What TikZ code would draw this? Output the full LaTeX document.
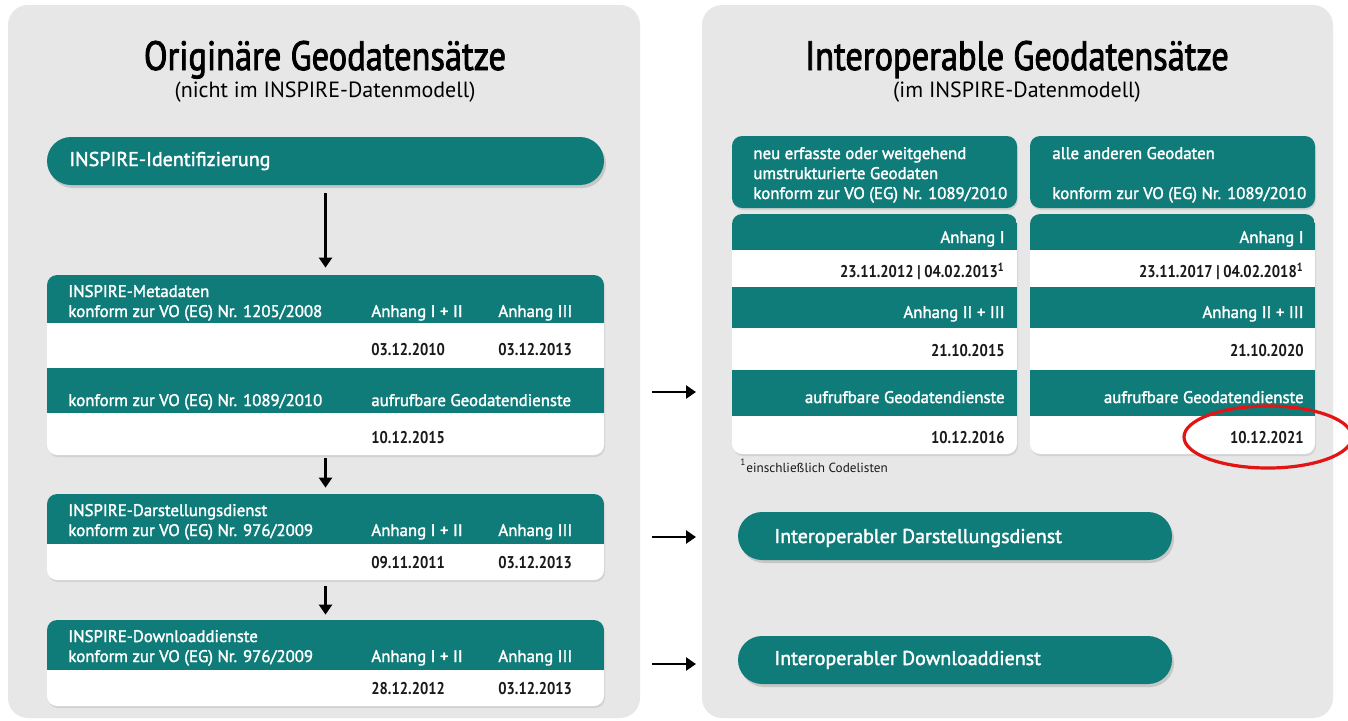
\documentclass[tikz,border=0pt]{standalone}
\usepackage{fontspec}
\setmainfont{PT Sans}
\newfontfamily\titlefont[FakeStretch=0.84, FakeBold=2]{PT Sans}
\newfontfamily\headfont[FakeBold=1.8]{PT Sans}
\newfontfamily\datefont[FakeStretch=0.86]{PT Sans}
\usepackage{xcolor}
\usepackage{tikz}
\usetikzlibrary{arrows.meta}
\usetikzlibrary{fit}
\usetikzlibrary{shadows}

\definecolor{inspteal}{RGB}{15,124,122}
\definecolor{panelgrey}{RGB}{231,231,231}
\definecolor{datetext}{RGB}{25,25,25}
\definecolor{markred}{RGB}{226,20,20}

\tikzset{
    panel/.style={fill=panelgrey, rounded corners=10pt},
    pill/.style={fill=inspteal, inner sep=0pt, rounded corners=12pt,
        drop shadow={opacity=0.3, shadow xshift=1pt, shadow yshift=-1.5pt}},
    tealbox/.style={fill=inspteal, inner sep=0pt, rounded corners=5pt,
        drop shadow={opacity=0.2, shadow xshift=0.5pt, shadow yshift=-1pt}},
    tabbox/.style={fill=white, inner sep=0pt, rounded corners=5pt,
        drop shadow={opacity=0.2, shadow xshift=0.5pt, shadow yshift=-1pt}},
    title/.style={anchor=base, inner sep=0pt, font=\titlefont\fontsize{20.5}{24}\selectfont},
    subtitle/.style={anchor=base, inner sep=0pt, font=\fontsize{11}{13}\selectfont},
    pilltext/.style={anchor=base west, inner sep=0pt, text=white, font=\headfont\fontsize{10}{12}\selectfont},
    head/.style={anchor=base west, inner sep=0pt, text=white, font=\headfont\fontsize{8.4}{10}\selectfont},
    headr/.style={head, anchor=base east},
    date/.style={anchor=base west, inner sep=0pt, text=datetext, font=\datefont\bfseries\fontsize{8.5}{10}\selectfont},
    dater/.style={date, anchor=base east},
    arr/.style={-{Triangle[length=5pt, width=6.5pt]}, line width=1.4pt},
}

\begin{document}
\begin{tikzpicture}[x=0.5pt, y=-0.5pt]

    \useasboundingbox (0,0) rectangle (1348,720);
    \fill [white] (0,0) rectangle (1348,720);

    \fill [panel] (8,5) rectangle (640,718);
    \fill [panel] (702,5) rectangle (1333,718);

    % left panel
    \node [title] (origTitle) at (325,70) {Originäre Geodatensätze};
    \node [subtitle] (origSub) at (325,97) {(nicht im INSPIRE-Datenmodell)};

    \node [pill, fit={(47,137) (604,185)}] (ident) {};
    \node [pilltext] (identText) at (69,166) {INSPIRE-Identifizierung};

    \node [tabbox, fit={(47,275) (604,455)}] (meta) {};
    \begin{scope}
        \clip [rounded corners=5pt] (47,275) rectangle (604,455);
        \foreach \ya/\yb in {275/323, 368/413}
            \fill [inspteal] (47,\ya) rectangle (604,\yb);
    \end{scope}
    \node [head] (metaName) at (68,297) {INSPIRE-Metadaten};
    \node [head] (metaReg) at (68,317) {konform zur VO (EG) Nr. 1205/2008};
    \node [head] (metaAnnA) at (371,317) {Anhang I + II};
    \node [head] (metaAnnB) at (498,317) {Anhang III};
    \node [date] (metaDateA) at (371,355) {03.12.2010};
    \node [date] (metaDateB) at (498,355) {03.12.2013};
    \node [head] (metaRegSvc) at (68,406) {konform zur VO (EG) Nr. 1089/2010};
    \node [head] (metaSvc) at (371,406) {aufrufbare Geodatendienste};
    \node [date] (metaDateC) at (371,443) {10.12.2015};

    \node [tabbox, fit={(47,494) (604,580)}] (view) {};
    \begin{scope}
        \clip [rounded corners=5pt] (47,494) rectangle (604,580);
        \fill [inspteal] (47,494) rectangle (604,544);
    \end{scope}
    \node [head] (viewName) at (68,516) {INSPIRE-Darstellungsdienst};
    \node [head] (viewReg) at (68,536) {konform zur VO (EG) Nr. 976/2009};
    \node [head] (viewAnnA) at (371,536) {Anhang I + II};
    \node [head] (viewAnnB) at (498,536) {Anhang III};
    \node [date] (viewDateA) at (371,568) {09.11.2011};
    \node [date] (viewDateB) at (498,568) {03.12.2013};

    \node [tabbox, fit={(47,620) (604,706)}] (down) {};
    \begin{scope}
        \clip [rounded corners=5pt] (47,620) rectangle (604,706);
        \fill [inspteal] (47,620) rectangle (604,670);
    \end{scope}
    \node [head] (downName) at (68,642) {INSPIRE-Downloaddienste};
    \node [head] (downReg) at (68,662) {konform zur VO (EG) Nr. 976/2009};
    \node [head] (downAnnA) at (371,662) {Anhang I + II};
    \node [head] (downAnnB) at (498,662) {Anhang III};
    \node [date] (downDateA) at (371,694) {28.12.2012};
    \node [date] (downDateB) at (498,694) {03.12.2013};

    \draw [arr, shorten <=4pt, shorten >=3.5pt] (ident) -- (meta);
    \draw [arr, shorten <=1.5pt, shorten >=3pt] (meta) -- (view);
    \draw [arr, shorten <=3pt, shorten >=2.5pt] (view) -- (down);

    % right panel
    \node [title] (interTitle) at (1017,70) {Interoperable Geodatensätze};
    \node [subtitle] (interSub) at (1017,97) {(im INSPIRE-Datenmodell)};

    \node [tealbox, fit={(732,136) (1017,208)}] (newHead) {};
    \node [head] (newLineA) at (753,159) {neu erfasste oder weitgehend};
    \node [head] (newLineB) at (753,179) {umstrukturierte Geodaten};
    \node [head] (newLineC) at (753,199) {konform zur VO (EG) Nr. 1089/2010};

    \node [tealbox, fit={(1030,136) (1315,208)}] (otherHead) {};
    \node [head] (otherLineA) at (1052,159) {alle anderen Geodaten};
    \node [head] (otherLineC) at (1052,199) {konform zur VO (EG) Nr. 1089/2010};

    \node [tabbox, fit={(732,214) (1017,454)}] (newTab) {};
    \node [tabbox, fit={(1030,214) (1315,454)}] (otherTab) {};
    \foreach \xa/\xb in {732/1017, 1030/1315} {
        \begin{scope}
            \clip [rounded corners=5pt] (\xa,214) rectangle (\xb,454);
            \foreach \ya/\yb in {214/250, 287/328, 370/416}
                \fill [inspteal] (\xa,\ya) rectangle (\xb,\yb);
        \end{scope}
    }

    \node [headr] (newAnnA) at (1005,243) {Anhang I};
    \node [dater] (newDateA) at (1005,277) {23.11.2012 | 04.02.2013\textsuperscript{1}};
    \node [headr] (newAnnB) at (1005,318) {Anhang II + III};
    \node [dater] (newDateB) at (1005,356) {21.10.2015};
    \node [headr] (newSvc) at (1005,403) {aufrufbare Geodatendienste};
    \node [dater] (newDateC) at (1005,443) {10.12.2016};

    \node [headr] (otherAnnA) at (1304,243) {Anhang I};
    \node [dater] (otherDateA) at (1304,277) {23.11.2017 | 04.02.2018\textsuperscript{1}};
    \node [headr] (otherAnnB) at (1304,318) {Anhang II + III};
    \node [dater] (otherDateB) at (1304,356) {21.10.2020};
    \node [headr] (otherSvc) at (1304,403) {aufrufbare Geodatendienste};
    \node [dater] (otherDateC) at (1304,443) {10.12.2021};

    \node [anchor=base west, inner sep=0pt, text=datetext, font=\fontsize{6.6}{8}\selectfont]
        (footnote) at (740,472) {\textsuperscript{1}einschließlich Codelisten};

    \node [pill, fit={(738,512) (1172,560)}] (viewInter) {};
    \node [pilltext] (viewInterText) at (774,543) {Interoperabler Darstellungsdienst};

    \node [pill, fit={(738,636) (1172,684)}] (downInter) {};
    \node [pilltext] (downInterText) at (774,665) {Interoperabler Downloaddienst};

    % arrows across
    \coordinate (metaOut) at (652,392);
    \coordinate (metaIn) at (696,392);
    \coordinate (viewOut) at (652,537);
    \coordinate (viewIn) at (696,537);
    \coordinate (downOut) at (652,664);
    \coordinate (downIn) at (696,664);
    \draw [arr] (metaOut) -- (metaIn);
    \draw [arr] (viewOut) -- (viewIn);
    \draw [arr] (downOut) -- (downIn);

    \draw [markred, line width=1.6pt] (1268,437) ellipse [x radius=84, y radius=31];

\end{tikzpicture}
\end{document}
